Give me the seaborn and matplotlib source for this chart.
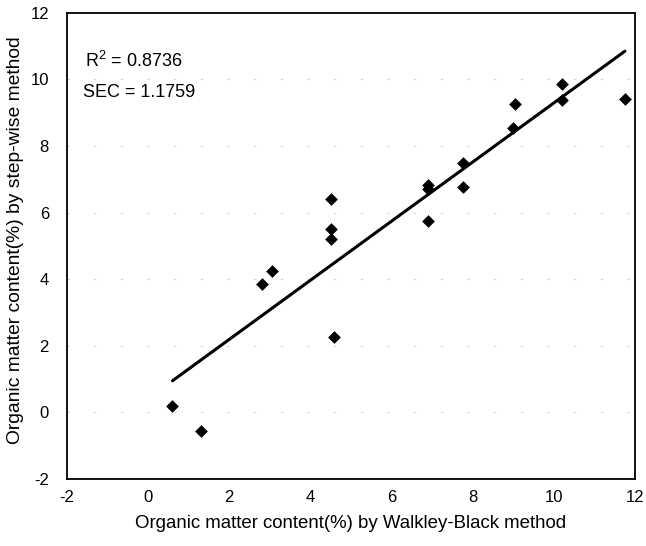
import matplotlib
matplotlib.use("Agg")
import matplotlib.pyplot as plt
import seaborn as sns
import pandas as pd

# Organic matter content (%) measured by the two methods
walkley_black = [0.6, 1.3, 2.8, 3.05, 4.5, 4.5, 4.5, 4.58, 6.9, 6.9, 6.9,
                 7.75, 7.75, 9.0, 9.05, 10.2, 10.2, 11.75]
step_wise = [0.2, -0.55, 3.85, 4.25, 6.4, 5.5, 5.2, 2.25, 6.82, 6.72, 5.76,
             7.5, 6.78, 8.54, 9.25, 9.87, 9.37, 9.4]

r2_text = "R$^{2}$ = 0.8736"
sec_text = "SEC = 1.1759"
x_ticks = [-2, 0, 2, 4, 6, 8, 10, 12]
y_ticks = [-2, 0, 2, 4, 6, 8, 10, 12]

df = pd.DataFrame({"wb": walkley_black, "sw": step_wise})

sns.set_theme(style="white")
plt.rcParams["font.family"] = ["Liberation Sans", "DejaVu Sans"]
plt.rcParams["mathtext.fontset"] = "custom"
plt.rcParams["mathtext.rm"] = "Liberation Sans"
plt.rcParams["axes.unicode_minus"] = False
plt.rcParams["text.color"] = "black"
plt.rcParams["axes.labelcolor"] = "black"

fig = plt.figure(figsize=(6.46, 5.46), dpi=100)
ax = fig.add_axes([0.1037, 0.1227, 0.8793, 0.854])

# faint broken grid lines
for yv in [0, 2, 4, 6, 8, 10]:
    ax.axhline(yv, color="#cfcfcf", lw=0.8, ls=(0, (2, 22)), zorder=0)

sns.regplot(data=df, x="wb", y="sw", ax=ax, ci=None, truncate=True,
            marker="D",
            scatter_kws=dict(s=42, color="black", edgecolor="black",
                             linewidths=0, alpha=1),
            line_kws=dict(color="black", lw=2.2))

ax.set_xlim(-2, 12)
ax.set_ylim(-2, 12)
ax.set_xticks(x_ticks)
ax.set_yticks(y_ticks)
ax.tick_params(length=0, labelsize=12, colors="black")
ax.tick_params(axis="x", pad=8)
ax.tick_params(axis="y", pad=13)
ax.set_xlabel("Organic matter content(%) by Walkley-Black method",
              fontsize=13.4, labelpad=7)
ax.set_ylabel("Organic matter content(%) by step-wise method", fontsize=13.9)
ax.yaxis.set_label_coords(-0.075, 0.512)

for sp in ax.spines.values():
    sp.set_color("black")
    sp.set_linewidth(1.3)

ax.text(-1.55, 10.55, r2_text, fontsize=13, va="center", ha="left")
ax.text(-1.6, 9.6, sec_text, fontsize=13, va="center", ha="left")

fig.savefig("out.png", dpi=100)
